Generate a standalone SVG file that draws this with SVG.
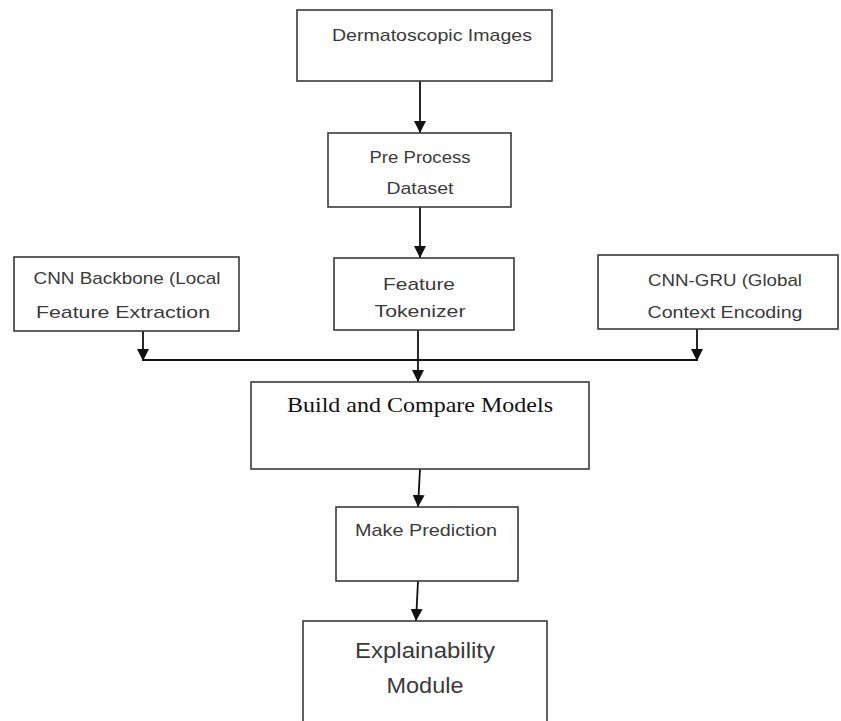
<svg xmlns="http://www.w3.org/2000/svg" width="841" height="721" viewBox="0 0 841 721">
<style>
.box{fill:#fff;stroke:#3a3a3a;stroke-width:1.6}
.t{font-family:"Liberation Sans",Arial,sans-serif;font-size:17px;fill:#3a3a3a;text-anchor:middle}
.s{font-family:"Liberation Serif","Times New Roman",serif;font-size:22px;fill:#111;text-anchor:middle}
.big{font-size:22px}
.c{fill:none;stroke:#111;stroke-width:1.8}
</style>
<defs>
<marker id="ah" viewBox="0 0 10 10" refX="10" refY="5" markerWidth="7" markerHeight="7" orient="auto" markerUnits="userSpaceOnUse">
<path d="M0,0 L10,5 L0,10 Z" fill="#111"/>
</marker>
<marker id="ah2" viewBox="0 0 12 12" refX="12" refY="6" markerWidth="12" markerHeight="12" orient="auto" markerUnits="userSpaceOnUse">
<path d="M0,0 L12,6 L0,12 Z" fill="#111"/>
</marker>
</defs>
<rect width="841" height="721" fill="#fff"/>
<g id="connectors">
<line class="c" x1="420" y1="81" x2="420" y2="133" marker-end="url(#ah2)"/>
<line class="c" x1="420" y1="207" x2="420" y2="258" marker-end="url(#ah2)"/>
<line class="c" x1="143" y1="331" x2="143" y2="361" marker-end="url(#ah2)"/>
<line class="c" x1="697" y1="329" x2="697" y2="361" marker-end="url(#ah2)"/>
<line class="c" x1="143" y1="360" x2="697" y2="360"/>
<line class="c" x1="418" y1="330" x2="418" y2="382" marker-end="url(#ah2)"/>
<line class="c" x1="420" y1="469" x2="418" y2="507" marker-end="url(#ah2)"/>
<line class="c" x1="418" y1="581" x2="416" y2="621" marker-end="url(#ah2)"/>
</g>
<g id="dermatoscopic">
<rect class="box" x="297" y="10" width="255" height="71"/>
<text class="t" x="432" y="41" textLength="200" lengthAdjust="spacingAndGlyphs">Dermatoscopic Images</text>
</g>
<g id="preprocess">
<rect class="box" x="328" y="133" width="183" height="74"/>
<text class="t" x="420" y="163" textLength="101" lengthAdjust="spacingAndGlyphs">Pre Process</text>
<text class="t" x="420" y="194" textLength="67" lengthAdjust="spacingAndGlyphs">Dataset</text>
</g>
<g id="cnnbackbone">
<rect class="box" x="14" y="257" width="225" height="74"/>
<text class="t" x="127" y="284" textLength="187" lengthAdjust="spacingAndGlyphs">CNN Backbone (Local</text>
<text class="t" x="123" y="318" textLength="174" lengthAdjust="spacingAndGlyphs">Feature Extraction</text>
</g>
<g id="tokenizer">
<rect class="box" x="334" y="258" width="180" height="72"/>
<text class="t" x="419" y="290" textLength="72" lengthAdjust="spacingAndGlyphs">Feature</text>
<text class="t" x="420" y="317" textLength="91" lengthAdjust="spacingAndGlyphs">Tokenizer</text>
</g>
<g id="cnngru">
<rect class="box" x="598" y="255" width="240" height="74"/>
<text class="t" x="725" y="286" textLength="154" lengthAdjust="spacingAndGlyphs">CNN-GRU (Global</text>
<text class="t" x="725" y="318" textLength="155" lengthAdjust="spacingAndGlyphs">Context Encoding</text>
</g>
<g id="build">
<rect class="box" x="251" y="382" width="338" height="87"/>
<text class="s" x="420" y="412" textLength="266" lengthAdjust="spacingAndGlyphs">Build and Compare Models</text>
</g>
<g id="predict">
<rect class="box" x="336" y="507" width="182" height="74"/>
<text class="t" x="426" y="536" textLength="142" lengthAdjust="spacingAndGlyphs">Make Prediction</text>
</g>
<g id="explain">
<rect class="box" x="303" y="621" width="244" height="110"/>
<text class="t big" x="425" y="658" textLength="140" lengthAdjust="spacingAndGlyphs">Explainability</text>
<text class="t big" x="425" y="693" textLength="77" lengthAdjust="spacingAndGlyphs">Module</text>
</g>
</svg>
